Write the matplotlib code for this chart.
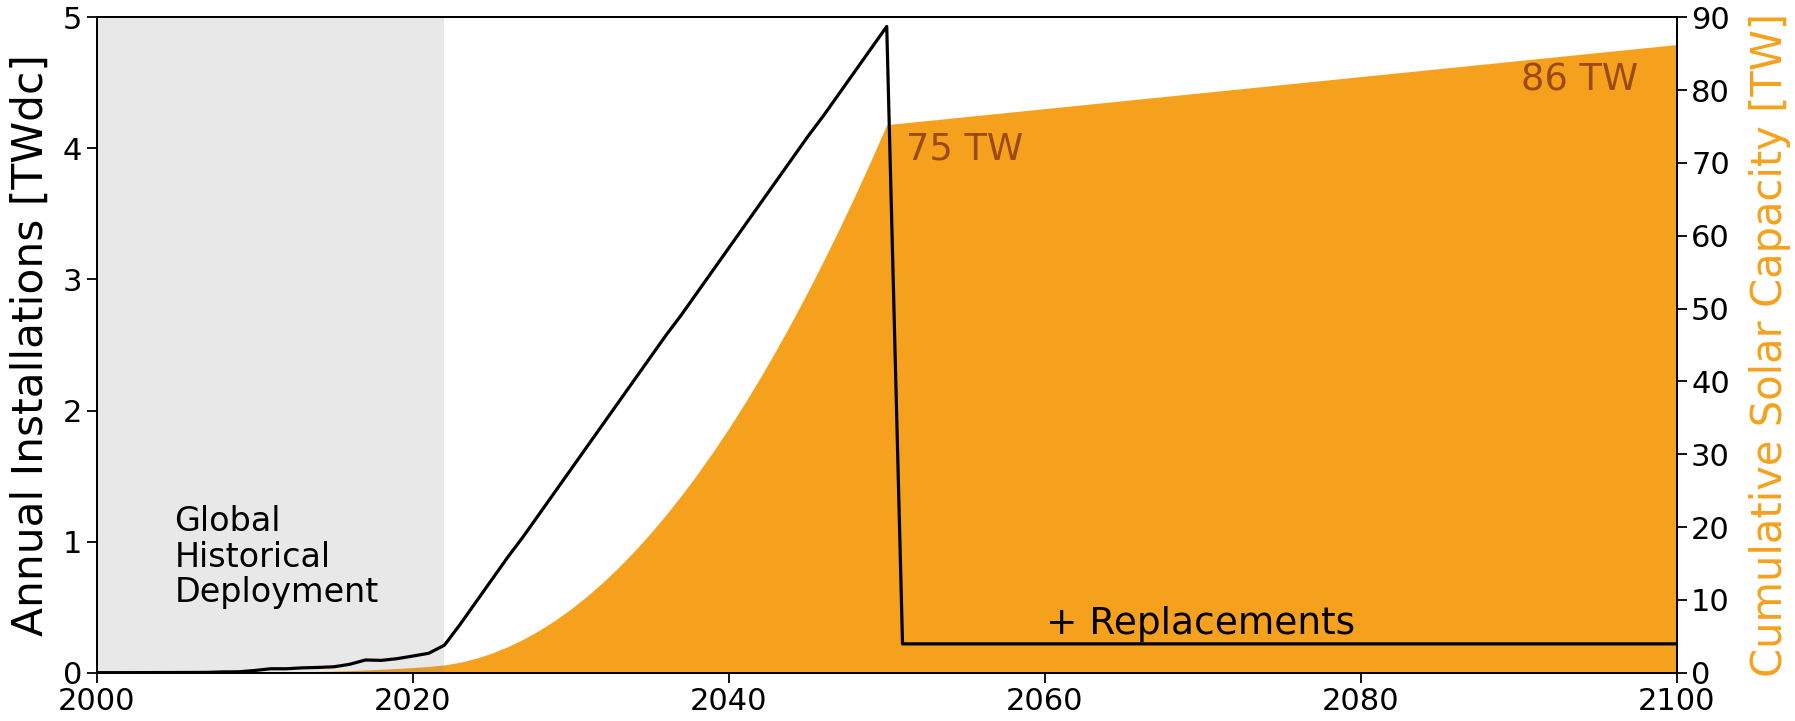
import numpy as np
import matplotlib
matplotlib.use('Agg')
from matplotlib import pyplot as plt

# years covered by the scenario
years = np.arange(2000, 2101)

# historical annual PV installations, TWdc (2000-2022)
historical = [0.0003, 0.0003, 0.0005, 0.0006, 0.001, 0.0014, 0.0016, 0.0025, 0.006, 0.007,
              0.017, 0.030, 0.030, 0.037, 0.040, 0.045, 0.064, 0.097, 0.094, 0.107,
              0.127, 0.148, 0.21]

# projected ramp of annual installations, TWdc (2023-2050)
ramp = [0.37, 0.54, 0.71, 0.88, 1.04, 1.21, 1.38, 1.55, 1.72, 1.89,
        2.06, 2.23, 2.40, 2.57, 2.73, 2.90, 3.07, 3.24, 3.41, 3.58,
        3.75, 3.92, 4.09, 4.25, 4.42, 4.59, 4.76, 4.93]

# replacement level after the build-out, TWdc (2051-2100)
replacements = [0.22] * 50

annual = np.array(historical + ramp + replacements)
# cumulative installed capacity, TW
cumulative = np.cumsum(annual)

orange = '#f5a11d'
label_brown = '#9b4a12'

fig = plt.figure(figsize=(17.95, 7.21), dpi=100)
ax = fig.add_axes([0.054, 0.067, 0.880, 0.909])
ax2 = ax.twinx()

# cumulative capacity fill on the right axis
ax2.fill_between(years, 0, cumulative, color=orange, linewidth=0)
ax2.set_ylim(0, 90)
ax2.set_yticks(np.arange(0, 91, 10))
ax2.set_ylabel('Cumulative Solar Capacity [TW]', color=orange, fontsize=30,
               labelpad=14)

# keep the left axis (line + shading) drawn above the fill
ax.set_zorder(ax2.get_zorder() + 1)
ax.patch.set_visible(False)

ax.axvspan(2000, 2022, color='#8a8a8a', alpha=0.19, linewidth=0)
ax.plot(years, annual, color='black', linewidth=2.3)
ax.set_xlim(2000, 2100)
ax.set_ylim(0, 5)
ax.set_xticks(np.arange(2000, 2101, 20))
ax.set_yticks(np.arange(0, 6, 1))
ax.set_ylabel('Annual Installations [TWdc]', fontsize=30.5, labelpad=8)

for a in (ax, ax2):
    a.tick_params(labelsize=22, length=7, width=1.3)
    for s in a.spines.values():
        s.set_linewidth(1.3)

ax.text(2004.9, 1.28, 'Global\nHistorical\nDeployment', fontsize=24,
        va='top', ha='left', linespacing=1.1)
ax.text(2060.1, 0.375, '+ Replacements', fontsize=27, va='center', ha='left')
ax2.text(2051.2, cumulative[50] - 3.4, '%d TW' % round(cumulative[50]), fontsize=26.5,
         color=label_brown, va='center', ha='left')
ax2.text(2097.6, cumulative[-1] - 4.9, '%d TW' % round(cumulative[-1]), fontsize=26.5,
         color=label_brown, va='center', ha='right')

plt.savefig('out.png', dpi=100)
